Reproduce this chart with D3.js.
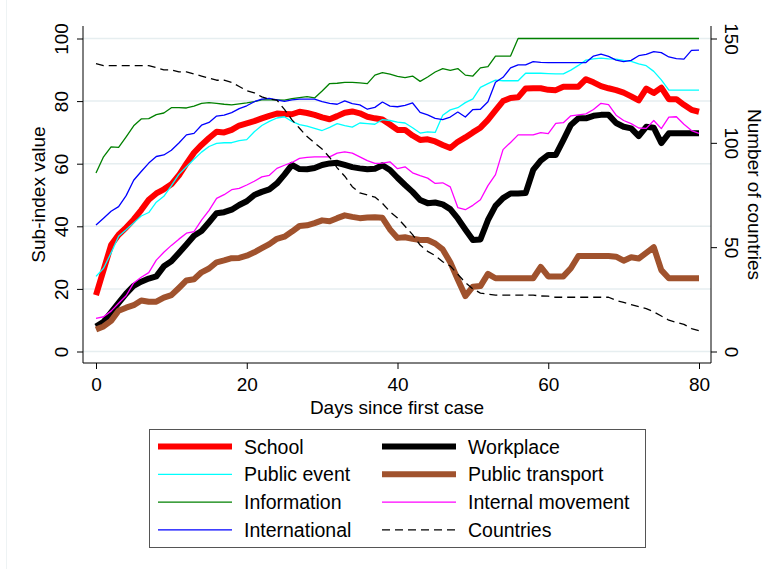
<!DOCTYPE html>
<html>
<head>
<meta charset="utf-8">
<script src="https://cdn.jsdelivr.net/npm/d3@7"></script>
<style>
  body { margin: 0; background: #fff; }
  svg { display: block; }
  text { font-family: "Liberation Sans", Arial, Helvetica, sans-serif; fill: #000; }
</style>
</head>
<body>
<svg width="775" height="569"></svg>
<script>
// days since first case
const days = d3.range(0, 81);

const school = [18,26,34,37.3,39.6,42.2,45.2,48.5,50.5,51.8, 53.4,56.3,60,63.5,66,68.2,70.2,70,70.8,72.2,
  72.9,73.6,74.5,75.3,76,75.9,75.8,76.6,76.2,75.6, 74.8,74.2,75.2,76.3,76.7,76.1,75,74.5,74.1,72.5,
  70.8,70.8,69,67.6,67.8,67.1,66,65,67,68.4, 70,71.5,74,77,80,81,81.2,84,84.1,84.1,
  83.6,83.5,84.6,84.6,84.6,87,86,84.8,84.1,83.5, 82.7,81.5,80.2,84,82.6,84.3,80.6,80.6,78.8,77.2, 76.6];

const workplace = [8,9.5,12.5,15.5,18.5,21,22.3,23.3,24,27.2, 28.8,31.5,34.2,37,38.5,41.3,44.2,44.5,45.3,46.8,
  48,50,51,51.8,53.7,56.5,59.6,58.3,58.2,58.6, 59.6,60.1,60.3,59.6,58.9,58.5,58.2,58.4,59.5,58,
  55.5,53.2,51,48.4,47.4,47.6,47,45.5,42.5,39, 35.6,35.8,42,46.5,49,50.5,50.5,50.6,58,61,
  62.8,62.8,67.5,72.4,74.5,74.5,75.3,75.6,75.6,73, 71.8,71.3,68.8,71.8,71.5,66.6,69.7,69.7,69.7,69.7, 69.7];

const publicEvent = [24,26.6,31.5,36.8,38.9,41.1,43.3,44.4,47.7,49.6, 53,56.6,59,61.4,63.7,65.5,66.5,66.7,66.7,67.4,
  67.7,70.2,72.2,73.5,74.6,75,73.5,72.5,72,71.3, 70.6,71.6,72.8,72.2,71.7,73,72.8,72.6,74.1,73.8,
  73.3,73,71.5,69.8,70.2,70,75.5,77.2,77.9,79.5, 80.7,84.4,85.6,86.7,86.5,86.5,86.5,88.9,88.9,88.9,
  88.8,88.7,88.7,89.9,91.4,93.1,93.5,93.7,93.5,93.4, 93,92.7,91.9,91.3,89.5,86.8,83.5,83.5,83.5,83.5, 83.5];

const publicTransport = [7,8,9.8,13,14,14.8,16.3,15.9,15.9,17.2, 18,20.3,22.7,23.1,25.3,26.5,28.5,29.1,29.8,29.9,
  30.6,31.7,33,34.3,36,36.7,38.3,40.1,40.3,41, 41.9,41.6,42.6,43.5,43,42.6,42.8,42.9,42.7,39,
  36.3,36.5,36,35.6,35.6,34.5,32.6,28.5,23,17.7, 20.7,20.9,24.8,23.4,23.4,23.4,23.4,23.4,23.4,27,
  24,24,24,26.6,30.5,30.5,30.5,30.5,30.5,30.3, 29,30.1,29.7,31.5,33.3,26,23.4,23.4,23.4,23.4, 23.4];

const information = [57,62.2,65.4,65.2,68.6,72.1,74.3,74.4,75.7,76.2, 77.9,77.9,77.8,78.4,79.3,79.5,79.3,79,78.8,79.1,
  79.4,79.8,80.4,80.4,80.4,80.3,80.8,81.1,81.4,81, 83.2,85.6,85.7,86,86,85.8,85.6,88.3,89.1,88.6,
  87.9,87.5,88,86.3,87.7,89.3,90.4,89.8,90.4,88.3, 88,90.6,91,94.4,94.4,94.4,100,100,100,100,
  100,100,100,100,100,100,100,100,100,100, 100,100,100,100,100,100,100,100,100,100, 100];

const internalMovement = [10.6,11.1,12.9,15.4,17.8,21.9,23.7,25.2,29.2,31.7, 33.9,35.9,37.8,38.3,42,45.1,48.9,50.1,51.7,52.1,
  53.2,54.4,55.8,56.3,58.5,59.5,60.4,61.7,62,62.2, 62.2,62.2,63.4,63.8,63.4,62.2,61,60.1,60.2,60.6,
  58.4,59,57.1,56.2,55.4,53.7,53.9,52.6,46,45.3, 46.7,48.5,53,56.5,64.5,66.8,69.2,69.2,69.2,69.9,
  69.6,72.9,73.1,75.3,75.6,75.9,77.3,79.3,78.9,75.5, 73.8,72.8,71.4,71.3,73.8,71.2,74.9,75,72.6,70.6, 69.7];

const international = [40.4,42.6,44.8,46.3,49.8,54.7,57.5,60.2,62.3,62.8, 64.3,66.6,69.2,69.7,72.3,73.2,75.2,75.5,76.3,77.6,
  78.5,79.8,80.6,80.9,80.4,79.9,80.4,80.6,80.6,80.6, 79.8,79.3,79,80.1,79.2,78.8,77.4,78,79.7,78.4,
  78.2,78.6,79.4,76.4,75.6,74.5,74.1,74.9,76.5,74.9, 77.3,77.4,79.8,86,87.6,90.6,91.6,91.6,92.6,92.4,
  92.3,92.3,92.3,92.3,92.3,92.3,94.4,95,94.3,93.1, 92.6,93,94.5,94.9,95.8,95.5,94.1,93.6,93.4,96.2, 96.3];

// number of countries (right axis)
const countries = [138,137,137,137,137,137,137,137,136,135, 135,134,134,133,132,131,130,130,129,127,
  125,124,122,121,120.5,116,111,107,103,100, 97,93,88,84,79,76,75,74,71,67,
  64,60,56,51,48,46,43,41,37,33, 30,28,27.5,27,27,27,27,27,27,26.6,
  26.5,26,26,26,26,26,26,26,26,24.5, 23.5,22.5,21.5,20.5,19,17,15,14,13,11, 10];

const leftTicks = [0, 20, 40, 60, 80, 100];
const rightTicks = [0, 50, 100, 150];
const xTicks = [0, 20, 40, 60, 80];

const series = [
  {name: "School", values: school, color: "#ff0000", width: 6, axis: "left"},
  {name: "Workplace", values: workplace, color: "#000000", width: 6, axis: "left"},
  {name: "Public event", values: publicEvent, color: "#00ffff", width: 1.3, axis: "left"},
  {name: "Public transport", values: publicTransport, color: "#a0522d", width: 6, axis: "left"},
  {name: "Information", values: information, color: "#008000", width: 1.3, axis: "left"},
  {name: "Internal movement", values: internalMovement, color: "#ff00ff", width: 1.3, axis: "left"},
  {name: "International", values: international, color: "#0000ff", width: 1.3, axis: "left"},
  {name: "Countries", values: countries, color: "#000000", width: 1.3, axis: "right", dash: "8,5"}
];

let svg = d3.select("svg");

// plot region
const plot = {left: 83, right: 711, top: 26, bottom: 363};

let x = d3.scaleLinear().domain([0, 80]).range([96, 699]);
let yL = d3.scaleLinear().domain([0, 100]).range([351.5, 38.5]);
let yR = d3.scaleLinear().domain([0, 150]).range([351.5, 38.5]);

// faint outer graph region edge
svg.append("line")
  .attr("x1", 6.5).attr("x2", 6.5).attr("y1", 0).attr("y2", 569)
  .attr("stroke", "#eef3f4").attr("stroke-width", 1);

// gridlines
svg.append("g").selectAll("line")
  .data(leftTicks)
  .join("line")
  .attr("x1", plot.left).attr("x2", plot.right)
  .attr("y1", d => yL(d)).attr("y2", d => yL(d))
  .attr("stroke", "#e6eef0").attr("stroke-width", 1.5);

// axes
let gL = svg.append("g")
  .attr("transform", "translate(" + plot.left + ",0)")
  .call(d3.axisLeft(yL).tickValues(leftTicks).tickSize(6).tickPadding(15).tickSizeOuter(0));
gL.select(".domain").attr("d", "M0," + plot.top + "V" + plot.bottom);
gL.selectAll(".tick text")
  .attr("x", null).attr("dy", null)
  .attr("transform", "translate(-15,0) rotate(-90)")
  .attr("text-anchor", "middle")
  .attr("font-size", 19);

let gR = svg.append("g")
  .attr("transform", "translate(" + plot.right + ",0)")
  .call(d3.axisRight(yR).tickValues(rightTicks).tickSize(6).tickSizeOuter(0));
gR.select(".domain").attr("d", "M0," + plot.top + "V" + plot.bottom);
gR.selectAll(".tick text")
  .attr("x", null).attr("dy", null)
  .attr("transform", "translate(14,0) rotate(90)")
  .attr("text-anchor", "middle")
  .attr("font-size", 19);

let gX = svg.append("g")
  .attr("transform", "translate(0," + plot.bottom + ")")
  .call(d3.axisBottom(x).tickValues(xTicks).tickSize(6).tickSizeOuter(0));
gX.select(".domain").attr("d", "M" + plot.left + ",0H" + plot.right);
gX.selectAll(".tick text")
  .attr("y", 28).attr("dy", null)
  .attr("font-size", 19);

svg.selectAll(".domain").attr("stroke", "#000").attr("stroke-width", 1);
svg.selectAll(".tick line").attr("stroke", "#000").attr("stroke-width", 1);

// axis titles
svg.append("text")
  .attr("transform", "translate(45," + (plot.top + plot.bottom) / 2 + ") rotate(-90)")
  .attr("text-anchor", "middle")
  .attr("font-size", 19)
  .text("Sub-index value");

svg.append("text")
  .attr("transform", "translate(748," + (plot.top + plot.bottom) / 2 + ") rotate(90)")
  .attr("text-anchor", "middle")
  .attr("font-size", 19)
  .text("Number of countries");

svg.append("text")
  .attr("x", (plot.left + plot.right) / 2)
  .attr("y", 414)
  .attr("text-anchor", "middle")
  .attr("font-size", 19)
  .text("Days since first case");

// lines
let lines = svg.append("g");
series.forEach(s => {
  let yScale = s.axis === "left" ? yL : yR;
  let line = d3.line()
    .x((d, i) => x(days[i]))
    .y(d => yScale(d));
  lines.append("path")
    .datum(s.values)
    .attr("d", line)
    .attr("fill", "none")
    .attr("stroke", s.color)
    .attr("stroke-width", s.width)
    .attr("stroke-linejoin", "round")
    .attr("stroke-dasharray", s.dash || null);
});

// legend
let legend = svg.append("g");
legend.append("rect")
  .attr("x", 149.5).attr("y", 429.5)
  .attr("width", 496).attr("height", 118)
  .attr("fill", "#fff")
  .attr("stroke", "#555").attr("stroke-width", 1);

series.forEach((s, i) => {
  let col = i % 2, row = Math.floor(i / 2);
  let lx = col === 0 ? 158 : 382;
  let ly = 446.5 + row * 27.8;
  legend.append("line")
    .attr("x1", lx).attr("x2", lx + 74)
    .attr("y1", ly).attr("y2", ly)
    .attr("stroke", s.color)
    .attr("stroke-width", s.width)
    .attr("stroke-dasharray", s.dash || null);
  legend.append("text")
    .attr("x", lx + 86)
    .attr("y", ly + 7)
    .attr("font-size", 19.5)
    .text(s.name);
});
</script>
</body>
</html>
